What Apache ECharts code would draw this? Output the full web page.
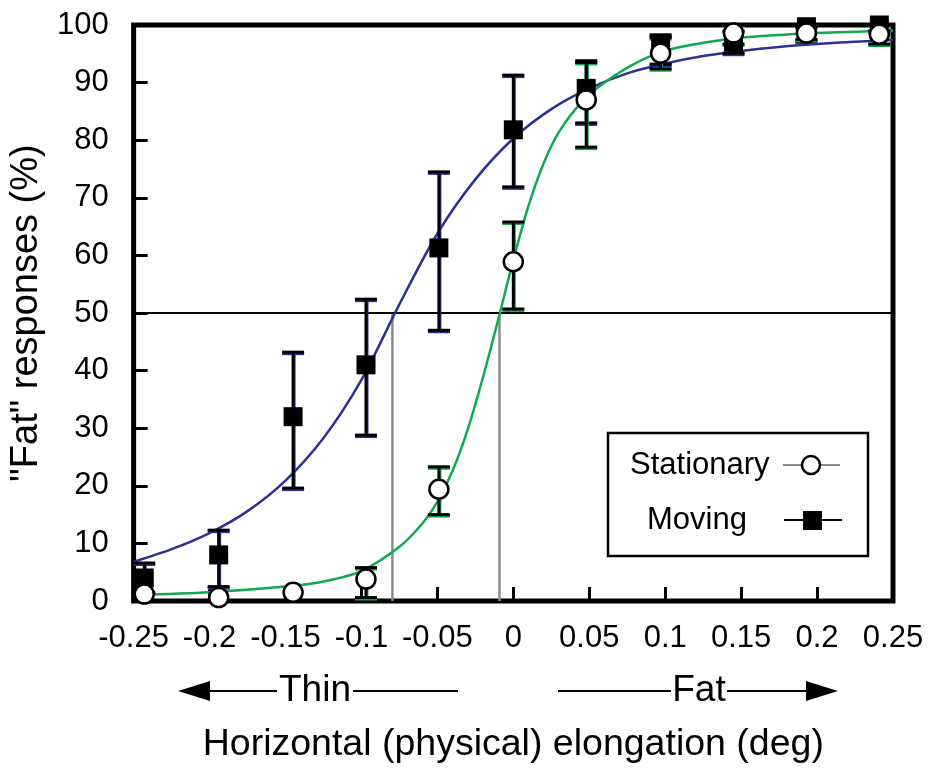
<!DOCTYPE html>
<html>
<head>
<meta charset="utf-8">
<script src="https://cdn.jsdelivr.net/npm/echarts@6/dist/echarts.min.js"></script>
<style>
  html, body { margin: 0; padding: 0; background: #fff; }
  #main { width: 934px; height: 774px; }
</style>
</head>
<body>
<div id="main"></div>
<script>
// elongation values (deg)
var xs = [-0.243, -0.194, -0.145, -0.097, -0.049, 0, 0.048, 0.097, 0.145, 0.193, 0.241];

// stationary condition
var stationary = [1.2, 0.6, 1.5, 3.8, 19.4, 58.9, 87, 95.1, 98.6, 98.6, 98.4];
var stationaryLow = [null, null, null, 0.6, 15, 50.7, 78.8, 92.4, 96.7, 97.5, 96.7];
var stationaryHigh = [null, null, null, 5.8, 23.3, 65.8, 93.5, 97.8, 100, 99.6, 100];

// moving condition
var moving = [4, 8, 32, 41, 61.3, 81.8, 89, 96, 97, 99.7, 100];
var movingLow = [1.5, 2.5, 19.6, 28.8, 47, 71.9, 83, 93.2, 95.1, 97.2, 99];
var movingHigh = [6.6, 12.3, 43.2, 52.4, 74.5, 91.3, 93.8, 98.3, 99, 100, 100];

// fitted curves
var movingFitX = [-0.25, -0.225, -0.2, -0.175, -0.15, -0.125, -0.1, -0.075, -0.05, -0.025, 0, 0.025, 0.05, 0.075, 0.1, 0.125, 0.15, 0.175, 0.2, 0.225, 0.25];
var movingFitY = [6.8, 9.0, 11.8, 15.6, 20.9, 28.3, 38.4, 51.5, 63.8, 73.2, 80.3, 85.4, 89, 91.6, 93.3, 94.6, 95.5, 96.2, 96.7, 97.1, 97.4];
var stationaryFitX = [-0.25, -0.2, -0.15, -0.125, -0.1, -0.075, -0.06, -0.05, -0.04, -0.03, -0.02, -0.01, 0, 0.01, 0.02, 0.03, 0.045, 0.06, 0.08, 0.1, 0.125, 0.15, 0.2, 0.25];
var stationaryFitY = [1.0, 1.5, 2.5, 3.4, 5.2, 9.4, 13.4, 17.2, 22.6, 29.8, 38.8, 48.8, 59.2, 68.6, 76, 81.4, 86.6, 90, 93.3, 95.5, 96.9, 97.8, 98.6, 99];

// 50% points of the two fits
var thresholds = [-0.0796, -0.0091];

var FONT = 'Liberation Sans, Arial, sans-serif';
var BLUE = '#2e3192';
var GREEN = '#12a84f';

function pairs(a, b) {
    var out = [];
    for (var i = 0; i < a.length; i++) {
        if (b[i] != null) out.push([a[i], b[i]]);
    }
    return out;
}

function bars(lo, hi) {
    var out = [];
    for (var i = 0; i < xs.length; i++) {
        if (lo[i] != null) out.push([xs[i], lo[i], hi[i]]);
    }
    return out;
}

function errorBar(color) {
    return function(params, api) {
        var x = api.value(0);
        var top = api.coord([x, api.value(2)]);
        var bot = api.coord([x, api.value(1)]);
        var w = 11;
        var kids = [];
        // coloured edge under the black bar
        kids.push({type: 'line', shape: {x1: top[0] + 1, y1: top[1], x2: bot[0] + 1, y2: bot[1]}, style: {stroke: color, lineWidth: 3}});
        kids.push({type: 'line', shape: {x1: top[0] - w, y1: top[1] + 1.5, x2: top[0] + w, y2: top[1] + 1.5}, style: {stroke: color, lineWidth: 3}});
        kids.push({type: 'line', shape: {x1: bot[0] - w, y1: bot[1] + 1.5, x2: bot[0] + w, y2: bot[1] + 1.5}, style: {stroke: color, lineWidth: 3}});
        kids.push({type: 'line', shape: {x1: top[0], y1: top[1], x2: bot[0], y2: bot[1]}, style: {stroke: '#000', lineWidth: 3}});
        kids.push({type: 'line', shape: {x1: top[0] - w, y1: top[1], x2: top[0] + w, y2: top[1]}, style: {stroke: '#000', lineWidth: 3}});
        kids.push({type: 'line', shape: {x1: bot[0] - w, y1: bot[1], x2: bot[0] + w, y2: bot[1]}, style: {stroke: '#000', lineWidth: 3}});
        return {type: 'group', children: kids};
    };
}

var chart = echarts.init(document.getElementById('main'));

var thresholdSeries = thresholds.map(function(t) {
    return {
        type: 'line',
        data: [[t, 0], [t, 50]],
        symbol: 'none',
        lineStyle: {color: '#8c8c8c', width: 2.5},
        silent: true,
        z: 1
    };
});

var option = {
    animation: false,
    grid: {
        left: 129, top: 25, width: 764, height: 576,
        show: true, borderColor: '#000', borderWidth: 5
    },
    xAxis: {
        type: 'value', min: -0.25, max: 0.25, interval: 0.05,
        axisLine: {show: false, onZero: false},
        axisTick: {show: true, inside: true, length: 14, lineStyle: {color: '#000', width: 3}},
        splitLine: {show: false},
        axisLabel: {
            color: '#000', fontSize: 31, fontFamily: FONT, margin: 22,
            showMinLabel: true, showMaxLabel: true, hideOverlap: false,
            formatter: function(v) { return String(Math.round(v * 100) / 100); }
        },
        name: 'Horizontal (physical) elongation (deg)',
        nameLocation: 'middle', nameGap: 144,
        nameTextStyle: {color: '#000', fontSize: 37.5, fontFamily: FONT, verticalAlign: 'middle'}
    },
    yAxis: {
        type: 'value', min: 0, max: 100, interval: 10,
        axisLine: {show: false, onZero: false},
        axisTick: {show: true, inside: true, length: 14, lineStyle: {color: '#000', width: 3}},
        splitLine: {show: false},
        axisLabel: {color: '#000', fontSize: 31, fontFamily: FONT, margin: 25},
        name: '"Fat" responses (%)',
        nameLocation: 'middle', nameGap: 98,
        nameTextStyle: {color: '#000', fontSize: 38, fontFamily: FONT, verticalAlign: 'middle'}
    },
    series: thresholdSeries.concat([
        {
            type: 'line',
            data: [[-0.25, 50], [0.25, 50]],
            symbol: 'none',
            lineStyle: {color: '#000', width: 2},
            silent: true,
            z: 1
        },
        {
            name: 'Moving fit', type: 'line', smooth: 0.3,
            data: pairs(movingFitX, movingFitY),
            symbol: 'none', lineStyle: {color: BLUE, width: 2.5}, z: 2
        },
        {
            name: 'Stationary fit', type: 'line', smooth: 0.3,
            data: pairs(stationaryFitX, stationaryFitY),
            symbol: 'none', lineStyle: {color: GREEN, width: 2.5}, z: 2
        },
        {
            type: 'custom', renderItem: errorBar(BLUE),
            data: bars(movingLow, movingHigh),
            encode: {x: 0, y: [1, 2]}, z: 3
        },
        {
            type: 'custom', renderItem: errorBar(GREEN),
            data: bars(stationaryLow, stationaryHigh),
            encode: {x: 0, y: [1, 2]}, z: 3
        },
        {
            name: 'Moving', type: 'scatter',
            data: pairs(xs, moving),
            symbol: 'rect', symbolSize: 19,
            itemStyle: {color: '#000', opacity: 1}, z: 4
        },
        {
            name: 'Stationary', type: 'scatter',
            data: pairs(xs, stationary),
            symbol: 'circle', symbolSize: 19,
            itemStyle: {color: '#fff', borderColor: '#000', borderWidth: 2.5, opacity: 1}, z: 5
        }
    ]),
    graphic: [
        // legend box
        {type: 'rect', shape: {x: 608, y: 433, width: 260, height: 123}, style: {fill: '#fff', stroke: '#000', lineWidth: 2.5}, z: 10},
        {type: 'text', x: 630, y: 465, style: {text: 'Stationary', font: '31px ' + FONT, fill: '#000', textVerticalAlign: 'middle'}, z: 11},
        {type: 'line', shape: {x1: 783, y1: 465, x2: 840, y2: 465}, style: {stroke: '#8c8c8c', lineWidth: 2}, z: 11},
        {type: 'circle', shape: {cx: 811, cy: 465, r: 9}, style: {fill: '#fff', stroke: '#000', lineWidth: 2.5}, z: 12},
        {type: 'text', x: 647, y: 520, style: {text: 'Moving', font: '31px ' + FONT, fill: '#000', textVerticalAlign: 'middle'}, z: 11},
        {type: 'line', shape: {x1: 784, y1: 520, x2: 842, y2: 520}, style: {stroke: '#000', lineWidth: 2}, z: 11},
        {type: 'rect', shape: {x: 803, y: 511, width: 19, height: 19}, style: {fill: '#000'}, z: 12},

        // Thin arrow
        {type: 'polygon', shape: {points: [[178, 691], [210, 681], [210, 701]]}, style: {fill: '#000'}},
        {type: 'line', shape: {x1: 208, y1: 691, x2: 277, y2: 691}, style: {stroke: '#000', lineWidth: 2}},
        {type: 'text', x: 315, y: 691, style: {text: 'Thin', font: '37px ' + FONT, fill: '#000', textAlign: 'center', textVerticalAlign: 'middle'}},
        {type: 'line', shape: {x1: 353, y1: 691, x2: 458, y2: 691}, style: {stroke: '#000', lineWidth: 2}},

        // Fat arrow
        {type: 'line', shape: {x1: 558, y1: 691, x2: 671, y2: 691}, style: {stroke: '#000', lineWidth: 2}},
        {type: 'text', x: 699, y: 691, style: {text: 'Fat', font: '37px ' + FONT, fill: '#000', textAlign: 'center', textVerticalAlign: 'middle'}},
        {type: 'line', shape: {x1: 727, y1: 691, x2: 810, y2: 691}, style: {stroke: '#000', lineWidth: 2}},
        {type: 'polygon', shape: {points: [[838, 691], [806, 681], [806, 701]]}, style: {fill: '#000'}}
    ]
};

chart.setOption(option);
</script>
</body>
</html>
